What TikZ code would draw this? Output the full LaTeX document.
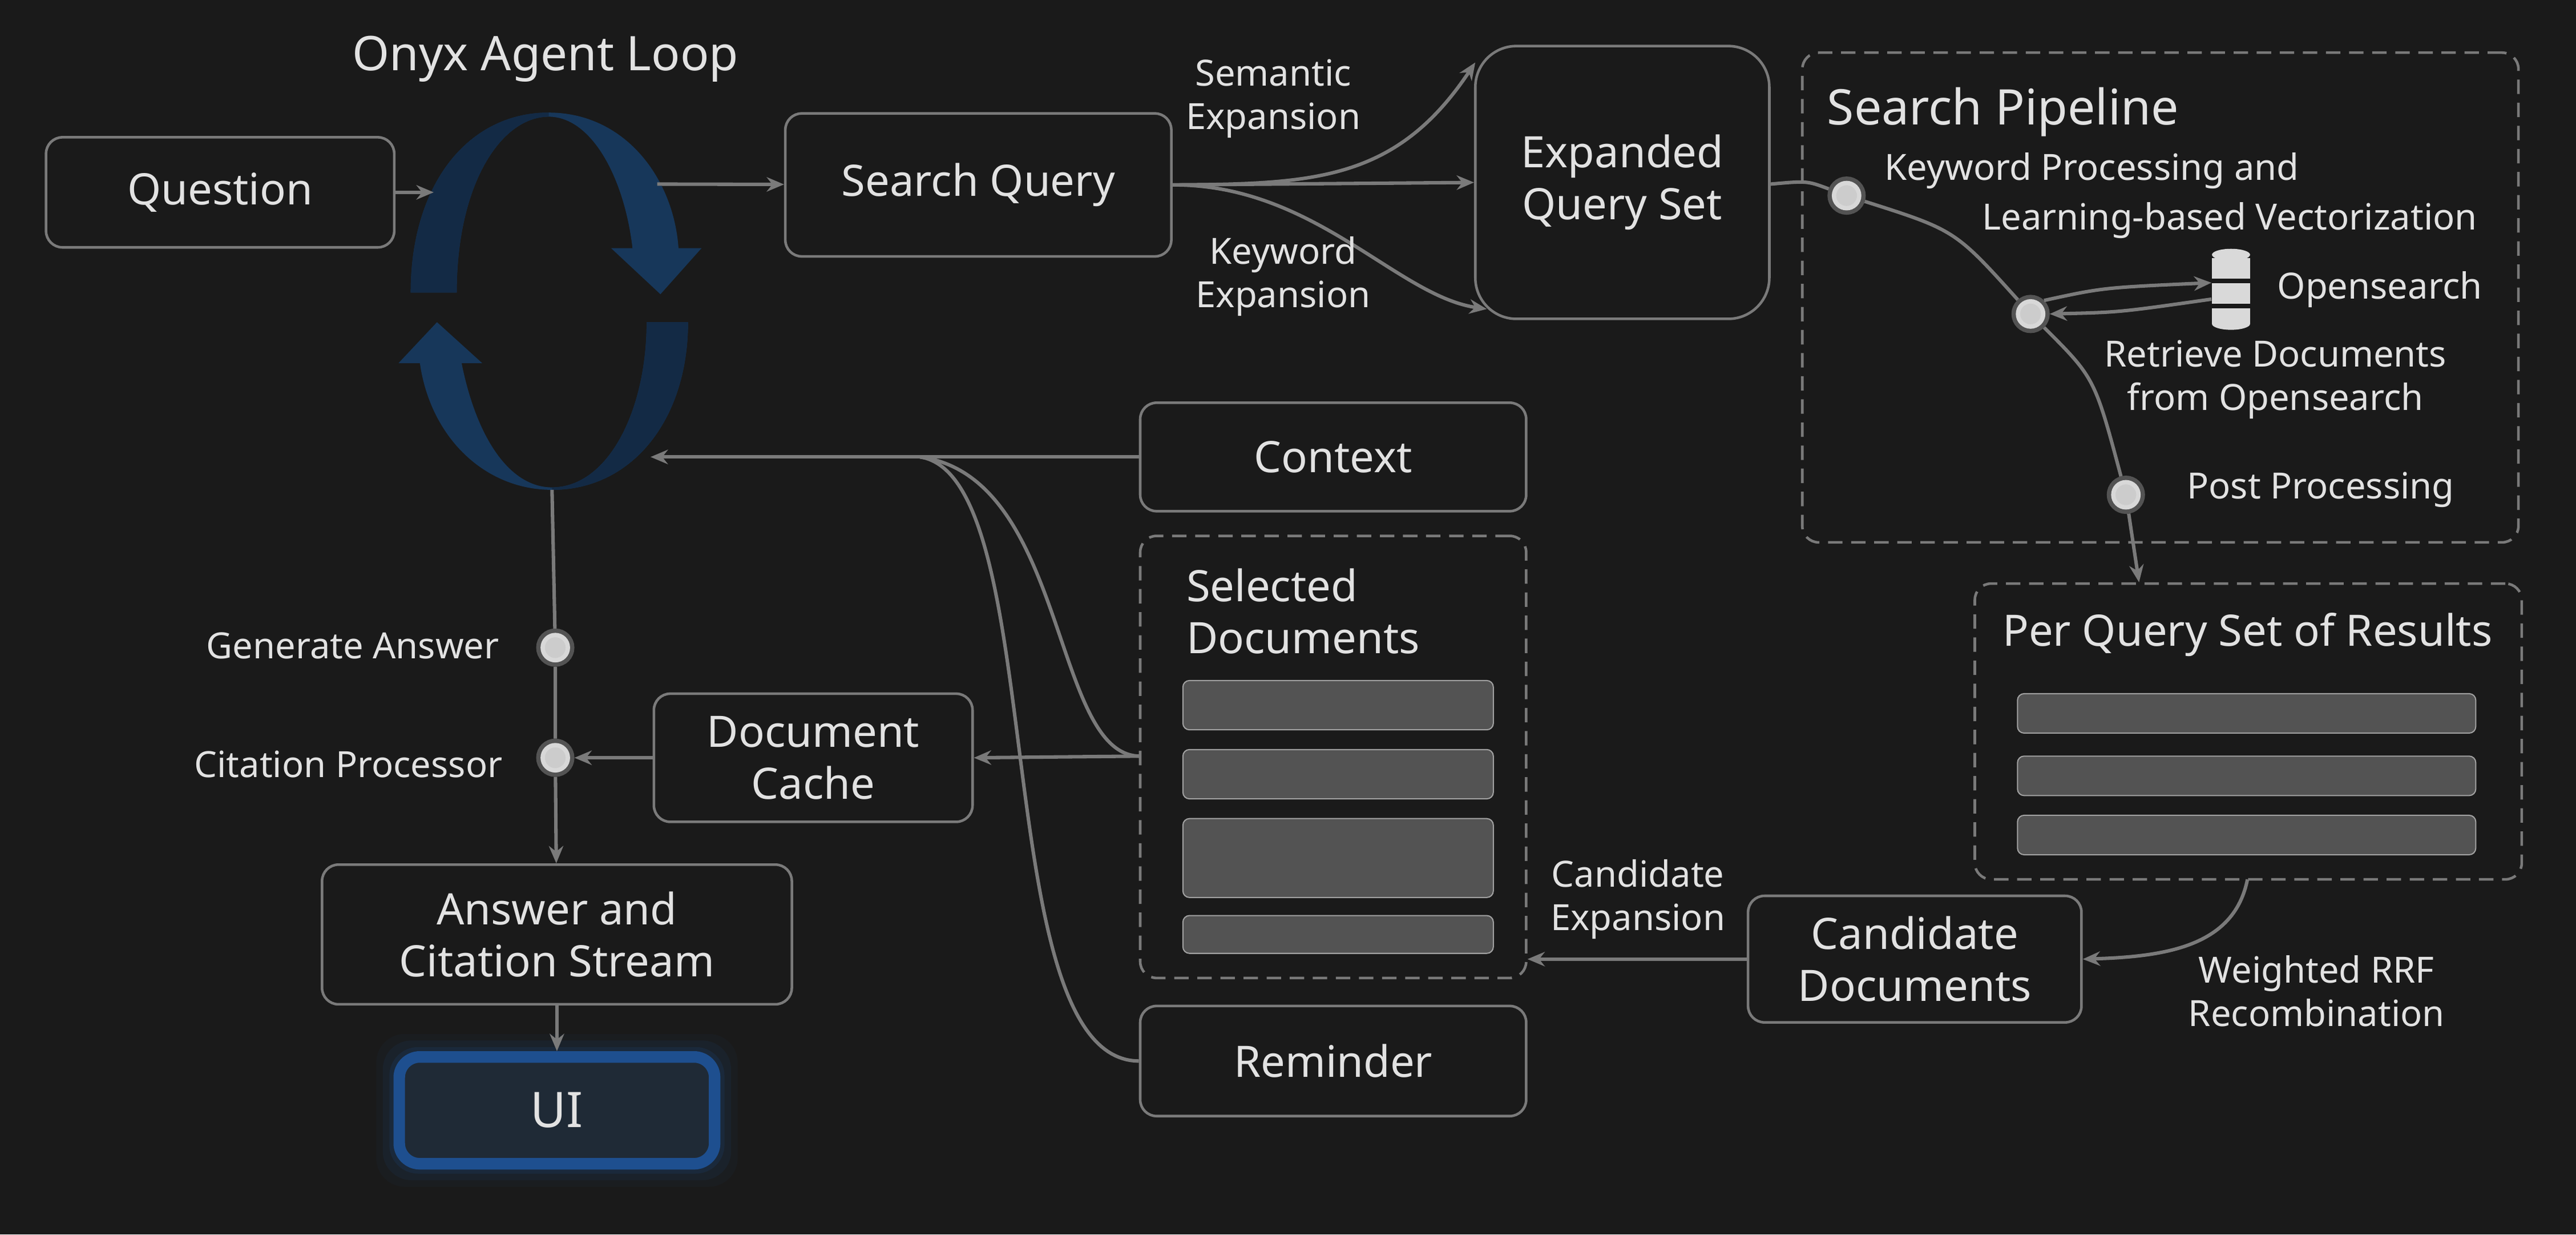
\documentclass[tikz,border=0pt]{standalone}
\usepackage{fontspec}
\setmainfont{Noto Sans}
\usetikzlibrary{arrows.meta,positioning}
\definecolor{bgc}{HTML}{1A1A1A}
\definecolor{txt}{HTML}{E2E2E2}
\definecolor{edge}{HTML}{7A7A7A}
\definecolor{loopblue}{HTML}{17375A}
\definecolor{loopdark}{HTML}{132A45}
\definecolor{uiblue}{HTML}{1E4F8F}
\definecolor{uifill}{HTML}{1F2A36}
\tikzset{
    box/.style={
        rectangle,
        rounded corners=0.2cm,
        draw=edge,
        line width=0.9pt,
        text=txt,
        align=center,
        font=\fontsize{15}{18}\selectfont
    },
    dashbox/.style={
        box,
        dashed,
        dash pattern=on 5pt off 3pt
    },
    bar/.style={
        rectangle,
        rounded corners=0.08cm,
        draw=edge!70,
        fill=white!25!bgc,
        minimum width=3.78cm
    },
    lbl/.style={
        text=txt,
        align=center,
        font=\fontsize{12.5}{15}\selectfont
    },
    dot/.style={
        circle,
        fill=white!80!black,
        draw=white!60,
        draw opacity=0.25,
        line width=3pt,
        minimum size=0.36cm,
        inner sep=0
    },
    link/.style={
        draw=edge,
        line width=1.2pt,
        -{Stealth[length=6pt,width=5pt]}
    }
}
\begin{document}
\begin{tikzpicture}[x=0.02cm,y=-0.02cm]
    \fill[bgc] (0,0) rectangle (1568,751);
    \useasboundingbox (0,0) rectangle (1568,751);
    % agent loop
    \node[lbl, font=\fontsize{16.5}{19}\selectfont] (title) at (332,36) {Onyx Agent Loop};
    \def\toparc{(250,178) .. controls (250,112) and (285,68.5) .. (334,68.5)
        .. controls (380,68.5) and (410,108) .. (413,151) -- (427,151) -- (402,179) -- (372,151) -- (385,151)
        .. controls (380,108) and (360,71) .. (334,71) .. controls (305,71) and (278,112) .. (278,178) -- cycle}
    \def\botarc{(255.6,221) -- (242.5,221) -- (266,196) -- (293.6,221) -- (281,221)
        .. controls (290,266) and (310,296.5) .. (336,296.5) .. controls (370,296.5) and (393.6,250) .. (393.6,196)
        -- (418.8,196) .. controls (418.8,255) and (385,298) .. (336,298)
        .. controls (295,298) and (262,266) .. (255.6,221) -- cycle}
    \fill[loopblue] \toparc;
    \fill[loopblue] \botarc;
    \begin{scope}
        \clip (200,60) rectangle (334,190);
        \fill[loopdark] \toparc;
    \end{scope}
    \begin{scope}
        \clip (336,180) rectangle (440,310);
        \fill[loopdark] \botarc;
    \end{scope}
    \coordinate (loopin) at (264,117);
    \coordinate (loopout) at (400,112);
    \coordinate (loopctx) at (396,278);
    \coordinate (loopbot) at (336,298);
    \node[box, minimum width=4.24cm, minimum height=1.34cm] (question) at (134,117) {Question};
    \node[box, minimum width=4.7cm, minimum height=1.74cm] (query) at (595.5,112.5) {Search Query};
    \node[box, rounded corners=0.5cm, minimum width=3.58cm, minimum height=3.32cm] (expanded) at (987.5,111) {Expanded\\Query Set};
    \draw[link] (question) -- (loopin);
    \draw[link] (loopout) -- (query);
    % expansions
    \draw[link] (query.east) .. controls (800,112) and (850,110) .. (898,38);
    \draw[link] (query.east) -- (expanded.west);
    \draw[link] (query.east) .. controls (800,112) and (850,180) .. (905,188);
    \node[lbl] (semantic) at (775,60) {Semantic\\Expansion};
    \node[lbl] (keyword) at (781,168) {Keyword\\Expansion};
    % search pipeline
    \node[dashbox, minimum width=8.72cm, minimum height=5.96cm] (pipe) at (1315,181) {};
    \node[lbl, anchor=west, font=\fontsize{17}{20}\selectfont] (pipetitle) at (1106,68) {Search Pipeline};
    \node[dot] (d1) at (1124,119) {};
    \node[dot] (d2) at (1236,191) {};
    \node[dot] (d3) at (1294,301) {};
    \draw[edge, line width=1.2pt] (expanded.east |- 0,112) .. controls (1100,110) .. (d1);
    \draw[edge, line width=1.2pt] (d1) .. controls (1190,140) .. (d2);
    \draw[edge, line width=1.2pt] (d2) .. controls (1275,230) .. (d3);
    \node[lbl, anchor=west] (kw1) at (1141,104) {Keyword Processing and};
    \node[lbl, anchor=east] (kw2) at (1514,134) {Learning-based Vectorization};
    \node[inner sep=0] (db) at (1358,176) {\tikz[x=1.45cm,y=1.45cm]{
        \fill[white!85!black] (0,0) ellipse (0.16 and 0.05);
        \fill[white!85!black] (-0.16,-0.03) rectangle (0.16,-0.2);
        \fill[white!85!black] (-0.16,-0.24) rectangle (0.16,-0.41);
        \fill[white!85!black] (-0.16,-0.45) rectangle (0.16,-0.58);
        \fill[white!85!black] (0,-0.58) ellipse (0.16 and 0.05);}};
    \node[lbl, anchor=west] (os) at (1380,176) {Opensearch};
    \draw[link] (d2.north east) .. controls (1280,175) .. (db.west |- 0,172);
    \draw[link] (db.west |- 0,182) .. controls (1290,190) .. (d2.east);
    \node[lbl] (retrieve) at (1385,231) {Retrieve Documents\\from Opensearch};
    \node[lbl, anchor=west] (post) at (1325,298) {Post Processing};
    % per query results
    \node[dashbox, minimum width=6.66cm, minimum height=3.6cm] (perq) at (1368.5,445) {};
    \draw[link] (d3) -- (perq.north -| 1302,0);
    \node[lbl, font=\fontsize{15}{18}\selectfont] (perqtitle) at (1368,386) {Per Query Set of Results};
    \node[bar, minimum width=5.58cm, minimum height=0.48cm] (r1) at (1367.5,434) {};
    \node[bar, minimum width=5.58cm, minimum height=0.48cm] (r2) at (1367.5,472) {};
    \node[bar, minimum width=5.58cm, minimum height=0.48cm] (r3) at (1367.5,508) {};
    \node[box, minimum width=4.06cm, minimum height=1.54cm] (cand) at (1165.5,583.5) {Candidate\\Documents};
    \draw[link] (1368,535) .. controls (1360,575) and (1320,582) .. (cand.east);
    \node[lbl] (rrf) at (1410,603) {Weighted RRF\\Recombination};
    % context documents
    \node[box, minimum width=4.7cm, minimum height=1.32cm] (ctx) at (811.5,278) {Context};
    \node[dashbox, minimum width=4.7cm, minimum height=5.38cm] (sel) at (811.5,460.5) {};
    \node[lbl, anchor=west, align=left, font=\fontsize{15}{18}\selectfont] (seltitle) at (716,372) {Selected\\Documents};
    \node[bar, minimum height=0.6cm] (s1) at (814.5,429) {};
    \node[bar, minimum height=0.6cm] (s2) at (814.5,471) {};
    \node[bar, minimum height=0.96cm] (s3) at (814.5,522) {};
    \node[bar, minimum height=0.46cm] (s4) at (814.5,568.5) {};
    \node[box, minimum width=4.7cm, minimum height=1.34cm] (rem) at (811.5,645.5) {Reminder};
    \draw[link] (cand.west) -- (sel.east |- cand.west);
    \node[lbl] (candexp) at (997,547) {Candidate\\Expansion};
    \coordinate (merge) at (560,278);
    \draw[link] (ctx.west) -- (loopctx);
    \draw[edge, line width=1.2pt] (694,460) .. controls (640,460) and (650,290) .. (merge);
    \draw[edge, line width=1.2pt] (rem.west) .. controls (600,645) and (640,290) .. (merge);
    % answer path
    \node[box, minimum width=3.88cm, minimum height=1.56cm] (cache) at (495,461) {Document\\Cache};
    \draw[link] (694,460) -- (cache.east);
    \node[dot] (gen) at (338,394) {};
    \node[dot] (cite) at (338,461) {};
    \node[lbl, anchor=east] (genlbl) at (310,393) {Generate Answer};
    \node[lbl, anchor=east] (citelbl) at (312,465) {Citation Processor};
    \draw[link] (cache.west) -- (cite);
    \node[box, minimum width=5.72cm, minimum height=1.7cm] (ans) at (339,568.5) {Answer and\\Citation Stream};
    \draw[edge, line width=1.2pt] (loopbot) -- (gen) -- (cite);
    \draw[link] (cite) -- (ans);
    \foreach \w/\o in {14/0.06,10/0.1,6/0.16} {
        \fill[uiblue, opacity=\o, rounded corners=0.35cm] (243-\w,643-\w) rectangle (435+\w,708+\w);
    }
    \node[box, draw=uiblue, line width=4pt, fill=uifill, rounded corners=0.25cm,
          minimum width=3.84cm, minimum height=1.3cm, font=\fontsize{17}{20}\selectfont] (ui) at (339,675.5) {UI};
    \draw[link] (ans) -- (ui);
\end{tikzpicture}
\end{document}
